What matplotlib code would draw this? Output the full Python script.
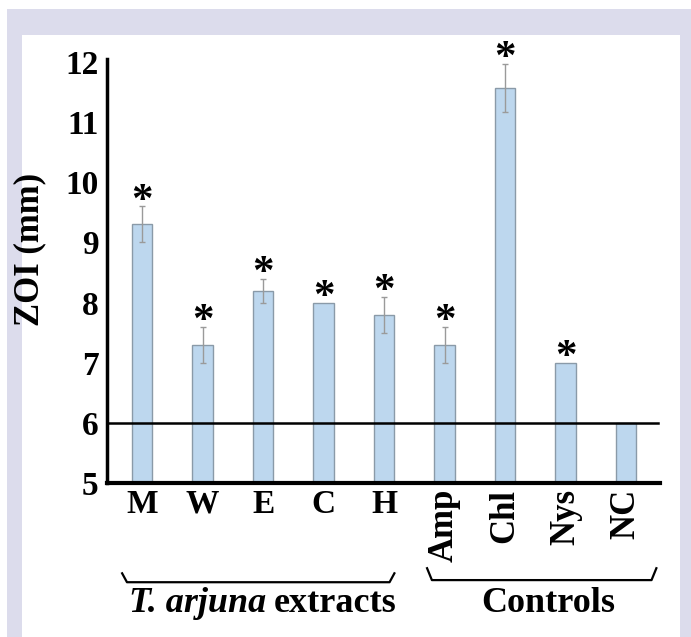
import numpy as np
from matplotlib import pyplot as plt
from matplotlib.patches import Rectangle

# data
labels = ['M', 'W', 'E', 'C', 'H', 'Amp', 'Chl', 'Nys', 'NC']
zoi = [9.3, 7.3, 8.2, 8.0, 7.8, 7.3, 11.57, 7.0, 6.0]
zoi_err = [0.3, 0.3, 0.2, 0.0, 0.3, 0.3, 0.4, 0.0, 0.0]
signif = [True, True, True, True, True, True, True, True, False]
groups = ['T. arjuna', 'extracts', 'Controls']
baseline = 6.0

plt.rcParams['font.family'] = ['Liberation Serif', 'DejaVu Serif']
plt.rcParams['font.weight'] = 'bold'

fig = plt.figure(figsize=(6.91, 6.37), dpi=100)
W, H = 691.0, 637.0
# lavender frame and white panel (behind the axes)
fig.patches.append(Rectangle((7 / W, 0), 1 - 7 / W, 1 - 9 / H, transform=fig.transFigure,
                             facecolor='#dcdcec', edgecolor='none', zorder=-2))
fig.patches.append(Rectangle((22 / W, 0), (680 - 22) / W, 1 - 35 / H, transform=fig.transFigure,
                             facecolor='white', edgecolor='none', zorder=-1))

ax = fig.add_axes([107 / W, 1 - 483 / H, (660 - 107) / W, (483 - 59) / H])
ax.set_zorder(1)
ax.patch.set_alpha(0)
x = np.arange(len(labels))
ax.bar(x, zoi, width=0.34, color='#bdd7ee', edgecolor='#8a9aa8', linewidth=1.0, zorder=2)
err_x = [xi for xi, e in zip(x, zoi_err) if e > 0]
ax.errorbar(err_x, [v for v, e in zip(zoi, zoi_err) if e > 0],
            yerr=[e for e in zoi_err if e > 0], fmt='none', ecolor='#9a9a9a',
            elinewidth=1.0, capsize=2, capthick=1.0, zorder=3)
for xi, v, e, s in zip(x, zoi, zoi_err, signif):
    if s:
        ax.text(xi, v + e - 0.24, '*', ha='center', va='bottom', fontsize=31,
                fontweight='bold', zorder=4)

ax.axhline(baseline, xmin=0, xmax=(658 - 107) / (660 - 107), color='black', lw=1.8, zorder=4)

ax.set_xlim(-0.58, 8.56)
ax.set_ylim(5, 12.05)
ax.set_yticks(np.arange(5, 13))
ax.set_yticklabels([str(v) for v in range(5, 13)], fontsize=24, fontweight='bold')
ax.set_xticks(x)
ax.set_xticklabels(labels, fontsize=24, fontweight='bold')
for t in ax.get_xticklabels()[5:]:
    t.set_rotation(90)
    t.set_va('top')
    t.set_fontsize(25)
ax.tick_params(length=0, pad=4)
ax.tick_params(axis='y', pad=6)
for s in ['top', 'right']:
    ax.spines[s].set_visible(False)
ax.spines['left'].set_linewidth(2.5)
ax.spines['bottom'].set_linewidth(3.0)
ax.set_ylabel('ZOI (mm)', fontsize=25, fontweight='bold', labelpad=4)
ax.yaxis.set_label_coords(-0.11, 0.55)

# group braces under the axis
tr = ax.get_xaxis_transform()
def brace(x0, x1, ytop, ybot):
    ax.plot([x0, x0 + 0.08, x1 - 0.08, x1], [ytop, ybot, ybot, ytop], color='black',
            lw=1.6, transform=tr, clip_on=False, solid_joinstyle='round')

brace(-0.33, 4.17, -0.213, -0.234)
brace(4.71, 8.50, -0.201, -0.229)
ax.text(2.06, -0.285, groups[0], transform=tr, ha='right', va='center', fontsize=26,
        fontweight='bold', fontstyle='italic')
ax.text(2.17, -0.285, groups[1], transform=tr, ha='left', va='center', fontsize=26,
        fontweight='bold')
ax.text(6.72, -0.285, groups[2], transform=tr, ha='center', va='center', fontsize=26,
        fontweight='bold')

fig.savefig('out.png', dpi=100)
